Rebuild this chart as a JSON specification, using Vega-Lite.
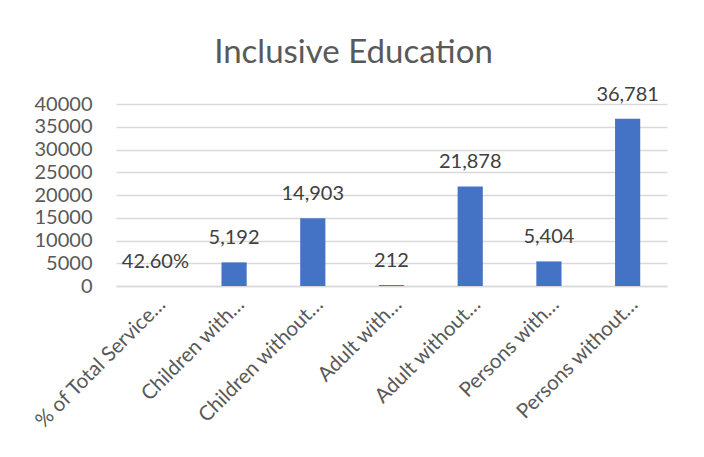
{
  "$schema": "https://vega.github.io/schema/vega-lite/v6.json",
  "width": 551,
  "height": 182,
  "autosize": "none",
  "padding": {"left": 116, "top": 104, "right": 37, "bottom": 171},
  "background": "white",
  "title": {
    "text": "Inclusive Education",
    "font": "Lato",
    "fontSize": 33,
    "fontWeight": "normal",
    "color": "#595959",
    "anchor": "middle",
    "baseline": "alphabetic",
    "offset": -11,
    "dx": -38
  },
  "data": {
    "values": [
      {"category": "% of Total Service…", "value": 0.426, "label": "42.60%"},
      {"category": "Children with…", "value": 5192, "label": "5,192"},
      {"category": "Children without…", "value": 14903, "label": "14,903"},
      {"category": "Adult with…", "value": 212, "label": "212"},
      {"category": "Adult without…", "value": 21878, "label": "21,878"},
      {"category": "Persons with…", "value": 5404, "label": "5,404"},
      {"category": "Persons without…", "value": 36781, "label": "36,781"}
    ]
  },
  "encoding": {
    "x": {
      "field": "category",
      "type": "nominal",
      "sort": null,
      "scale": {"paddingInner": 0.68, "paddingOuter": 0.34},
      "axis": {
        "title": null,
        "labelAngle": -45,
        "labelFont": "Lato",
        "labelFontSize": 20.5,
        "labelColor": "#595959",
        "labelPadding": 8,
        "labelLimit": 300,
        "ticks": false,
        "domainColor": "#d9d9d9",
        "domainWidth": 1.5
      }
    },
    "y": {
      "field": "value",
      "type": "quantitative",
      "scale": {"domain": [0, 40000], "nice": false},
      "axis": {
        "title": null,
        "values": [0, 5000, 10000, 15000, 20000, 25000, 30000, 35000, 40000],
        "format": "d",
        "labelFont": "Lato",
        "labelFontSize": 20,
        "labelColor": "#595959",
        "labelPadding": 24,
        "ticks": false,
        "domain": false,
        "gridColor": "#d9d9d9",
        "gridWidth": 1.5
      }
    }
  },
  "layer": [
    {"mark": {"type": "bar", "color": "#4472C4"}},
    {
      "mark": {
        "type": "text",
        "font": "Lato",
        "fontSize": 20,
        "color": "#404040",
        "baseline": "alphabetic",
        "dy": -18
      },
      "encoding": {"text": {"field": "label"}}
    }
  ],
  "config": {"view": {"stroke": null}}
}
